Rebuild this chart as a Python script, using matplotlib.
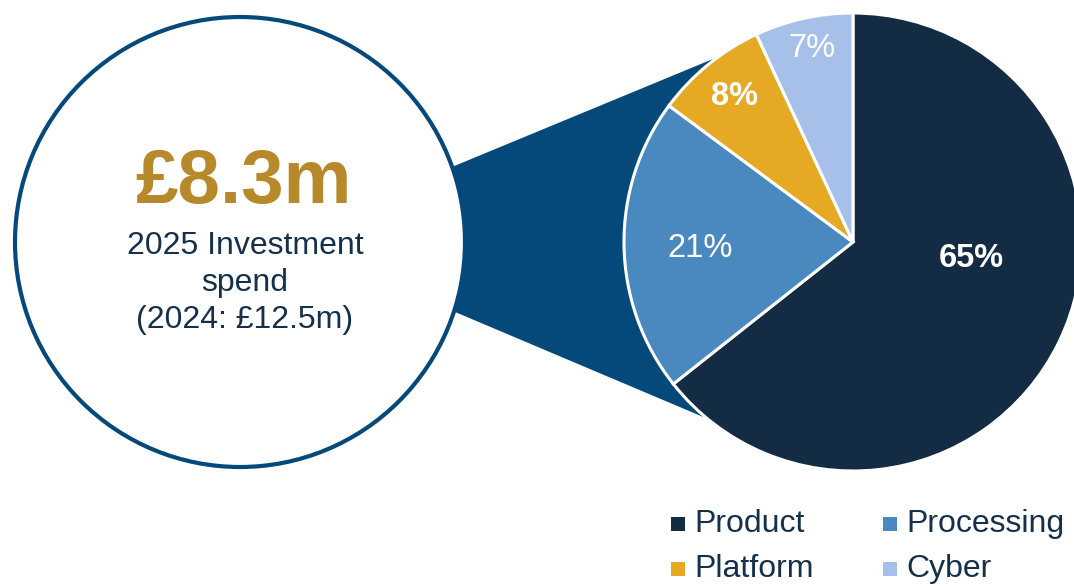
import numpy as np
import matplotlib
matplotlib.use("Agg")
import matplotlib.pyplot as plt
from matplotlib.patches import Circle, Polygon

plt.rcParams['font.family'] = ['Liberation Sans', 'DejaVu Sans']

# investment split
categories = ['Product', 'Processing', 'Platform', 'Cyber']
shares = [65, 21, 8, 7]
colors = ['#132c43', '#4a89bf', '#e5a923', '#a6c0ea']
bold_labels = [True, False, True, False]

headline = '£8.3m'
subtitle = '2025 Investment\nspend\n(2024: £12.5m)'

navy = '#14304a'
funnel_blue = '#05497b'
gold = '#b8892a'

W, H = 1074, 588
fig = plt.figure(figsize=(W / 100, H / 100), dpi=100)
ax = fig.add_axes([0, 0, 1, 1])

# geometry (pixels, y up)
circ_c = (240, 346)
circ_r = 225
pie_c = (853, 346)
pie_r = 229


def polar(c, r, deg):
    a = np.deg2rad(deg)
    return (c[0] + r * np.cos(a), c[1] + r * np.sin(a))


# funnel linking the summary circle to the pie
funnel = Polygon([circ_c, polar(circ_c, circ_r, 19.5), polar(pie_c, pie_r, 126),
                  pie_c, polar(pie_c, pie_r, 230.5), polar(circ_c, circ_r, -18)],
                 closed=True, facecolor=funnel_blue, edgecolor='none', zorder=1)
ax.add_patch(funnel)

ax.add_patch(Circle(circ_c, circ_r, facecolor='white', edgecolor=funnel_blue,
                    linewidth=3.0, zorder=2))

wedges, _ = ax.pie(shares, colors=colors, startangle=90, counterclock=False,
                   center=pie_c, radius=pie_r, frame=True,
                   wedgeprops=dict(edgecolor='white', linewidth=2.2))
for w in wedges:
    w.set_zorder(3)
ax.set_xlim(0, W)
ax.set_ylim(0, H)
ax.set_aspect('equal')
ax.axis('off')

# percentage labels: (radius fraction, angle)
label_pos = [(0.52, -8), (0.67, 182.5), (0.82, 129), (0.865, 102)]
for v, b, (f, ang) in zip(shares, bold_labels, label_pos):
    x, y = polar(pie_c, pie_r * f, ang)
    ax.text(x, y, f'{v}%', ha='center', va='center', color='white',
            fontsize=23.5, fontweight='bold' if b else 'normal', zorder=4)

ax.text(circ_c[0] + 3, 404, headline, ha='center', va='center', color=gold,
        fontsize=55, fontweight='bold', zorder=4)
ax.text(circ_c[0] + 5, 305, subtitle, ha='center', va='center', color=navy,
        fontsize=23, linespacing=1.3, zorder=4)

# legend in two columns
leg_x = [678, 890]
leg_y = [64, 19]
for i, (name, col) in enumerate(zip(categories, colors)):
    x = leg_x[i % 2]
    y = leg_y[i // 2]
    ax.scatter([x], [y], marker='s', s=90, color=col, linewidths=0, zorder=4)
    ax.text(x + 16, y, name, ha='left', va='center', color=navy, fontsize=23,
            zorder=4)

fig.savefig('out.png', dpi=100)
